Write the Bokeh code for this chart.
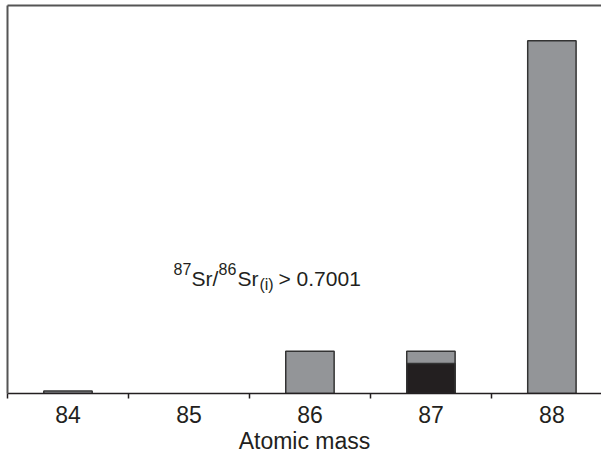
from bokeh.plotting import figure
from bokeh.models import Range1d, LinearAxis, FixedTicker, Label, ColumnDataSource, Title
from bokeh.embed import file_html
from bokeh.resources import INLINE

# ---- data ----
masses = [84, 85, 86, 87, 88]
abundance = [0.56, 0.0, 9.86, 9.86, 82.58]      # total bar heights (%)
mass_87 = [87]
primordial_87 = [7.0]                            # dark lower part of the 87 bar
tick_boundaries = [83.5, 84.5, 85.5, 86.5, 87.5, 88.5]

FONT = "Liberation Sans"
DARK = "#231f20"
GREY = "#939598"
FRAME = "#555555"

p = figure(frame_width=594, frame_height=388, output_backend="svg", toolbar_location=None,
           x_range=Range1d(83.5, 88.41), y_range=Range1d(0, 90.8),
           x_axis_location=None, y_axis_location=None,
           min_border_left=7, min_border_top=5, min_border_right=0, min_border_bottom=0,
           background_fill_color="white", border_fill_color="white")
p.outline_line_color = None
p.xgrid.visible = False
p.ygrid.visible = False

src = ColumnDataSource(dict(x=[m for m, v in zip(masses, abundance) if v > 0],
                            top=[v for v in abundance if v > 0]))
p.vbar(x="x", top="top", bottom=0, width=0.4, source=src,
       fill_color=GREY, line_color="#333333", line_width=1.5)
p.vbar(x=mass_87, top=primordial_87, bottom=0, width=0.4,
       fill_color=DARK, line_color="#333333", line_width=1.5)

# bottom axis: labels at centres, ticks at category boundaries
xa = LinearAxis(ticker=FixedTicker(ticks=masses, minor_ticks=tick_boundaries))
xa.axis_line_color = DARK
xa.axis_line_width = 1.5
xa.major_tick_out = 0
xa.major_tick_in = 0
xa.minor_tick_out = 5
xa.minor_tick_in = 0
xa.minor_tick_line_color = DARK
xa.minor_tick_line_width = 1.5
xa.major_label_standoff = 7
xa.major_label_text_font = FONT
xa.major_label_text_font_size = "23px"
xa.major_label_text_color = DARK
p.add_layout(xa, "below")

# axis title
p.add_layout(Title(text="Atomic mass", align="center", text_font=FONT,
                   text_font_size="23px", text_font_style="normal",
                   text_color=DARK, standoff=0, offset=2), "below")

# left and top frame lines
for loc in ("left", "above"):
    ax = LinearAxis(ticker=FixedTicker(ticks=[]))
    ax.axis_line_color = FRAME
    ax.axis_line_width = 2
    ax.major_tick_out = 0
    ax.major_tick_in = 0
    ax.minor_tick_out = 0
    ax.minor_tick_in = 0
    ax.major_label_standoff = 0
    p.add_layout(ax, loc)

# annotation 87Sr/86Sr(i) > 0.7001
ax0, ay0 = 84.872, 26.8
pieces = [
    ("87", 0, 10, "16px"),
    ("Sr/", 18, 0, "21px"),
    ("86", 45, 10, "16px"),
    ("Sr", 64, 0, "21px"),
    ("(i)", 86, -6, "16px"),
    ("> 0.7001", 105, 0, "21px"),
]
for txt, dx, dy, fs in pieces:
    p.add_layout(Label(x=ax0, y=ay0, x_offset=dx, y_offset=dy, text=txt,
                       text_font=FONT, text_font_size=fs, text_color=DARK,
                       text_baseline="alphabetic", text_align="left"))

open("out.html", "w").write(file_html(p, INLINE))
